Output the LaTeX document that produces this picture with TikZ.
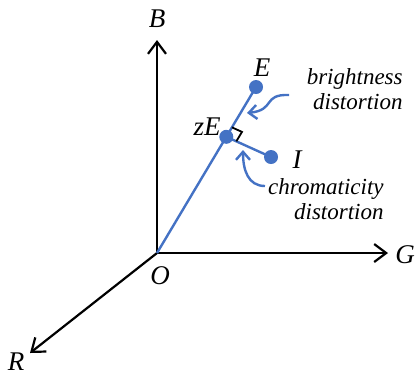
\documentclass[tikz,border=0pt]{standalone}
\usepackage{fontspec}
\setmainfont{Liberation Serif}
\usetikzlibrary{positioning, arrows.meta, calc}
\definecolor{lineblue}{RGB}{68,114,196}
\tikzset{
  axis/.style={line width=1.1pt,-{Straight Barb[length=6pt,width=9pt]}},
  vecline/.style={lineblue, line width=1.2pt},
  pt/.style={circle, fill=lineblue, inner sep=0pt, minimum size=7pt},
  lbl/.style={font=\itshape\fontsize{13.5}{13.5}\selectfont, inner sep=1pt},
  note/.style={font=\itshape\fontsize{11.5}{12.5}\selectfont, align=right, inner sep=0pt},
  curly/.style={lineblue, line width=1.2pt, -{Straight Barb[length=4pt,width=7pt]}}
}

\begin{document}
\begin{tikzpicture}[x=0.5pt, y=-0.5pt]
        \useasboundingbox (0,0) rectangle (416,377);

        % Ejes
        \coordinate (O) at (157,253);
        \coordinate (Btip) at (157,40);
        \coordinate (Gtip) at (388,253);
        \coordinate (Rtip) at (30,353);
        \draw [axis] (O) -- (Btip);
        \draw [axis] (O) -- (Gtip);
        \draw [axis] (O) -- (Rtip);

        \node (labB) [lbl] at (157,19) {B};
        \node (labG) [lbl] at (405,255) {G};
        \node (labR) [lbl] at (16,362) {R};
        \node (labO) [lbl] at (160,276) {O};

        % Puntos E, zE, I
        \node (E) [pt] at (256,87) {};
        \coordinate (zEc) at ($(O)!0.7!(E)$);
        \node (I) [pt] at (271,157) {};
        \draw [vecline] (O) -- (E.center);
        \draw [vecline] (zEc) -- (I.center);

        % Angulo recto
        \draw [line width=0.9pt]
          ($(zEc)!5.5pt!(E.center)$) -- ($(zEc)!5.5pt!(E.center) + ($(zEc)!5.5pt!(I.center)$) - (zEc)$) -- ($(zEc)!5.5pt!(I.center)$);
        \node (zE) [pt] at (zEc) {};

        \node (labE) [lbl] at (262,68) {E};
        \node (labzE) [lbl] at (207,127) {zE};
        \node (labI) [lbl] at (297,160) {I};

        % Notas
        \node (bright) [note, anchor=north east] at (403,68) {brightness\\distortion};
        \node (chroma) [note, anchor=north east] at (384,178) {chromaticity\\distortion};
        \draw [curly] (289,95) .. controls (262,94) and (276,110) .. (247,113);
        \draw [curly] (265,186) .. controls (248,186) and (243,170) .. (243,150);

    \end{tikzpicture}
\end{document}
